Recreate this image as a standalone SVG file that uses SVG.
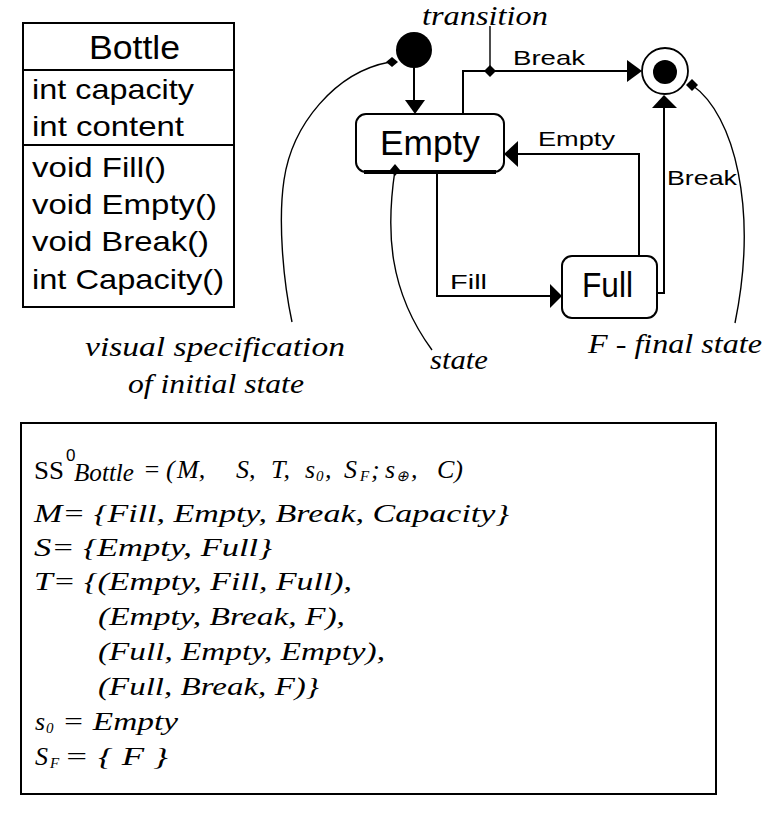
<svg xmlns="http://www.w3.org/2000/svg" width="766" height="817" viewBox="0 0 766 817">
<style>
.ln{fill:none;stroke:#000;stroke-width:2}
.ann{fill:none;stroke:#000;stroke-width:1.4}
.box{fill:#fff;stroke:#000;stroke-width:2}
.blk{fill:#000}
.sans{font-family:"Liberation Sans",Arial,sans-serif;fill:#000}
.cls{font-size:28px}
.st{font-size:35px}
.lbl{font-size:21px}
.it{font-family:"Liberation Serif","Times New Roman",serif;font-style:italic;fill:#000;font-size:27px}
.sp{font-family:"Liberation Serif","Times New Roman",serif;font-style:italic;fill:#000;font-size:26px}
.rm{font-family:"Liberation Serif","Times New Roman",serif;fill:#000;font-size:26px}
.sub{font-size:15px}
</style>
<rect width="766" height="817" fill="#fff"/>

<!-- Class box -->
<g id="class-bottle">
<rect class="box" x="23" y="23" width="211" height="284"/>
<line class="ln" x1="23" y1="70" x2="234" y2="70"/>
<line class="ln" x1="23" y1="145" x2="234" y2="145"/>
<text class="sans" x="89" y="59" font-size="34" textLength="91" lengthAdjust="spacingAndGlyphs">Bottle</text>
<text class="sans cls" x="32" y="99" textLength="162" lengthAdjust="spacingAndGlyphs">int capacity</text>
<text class="sans cls" x="32" y="136" textLength="152" lengthAdjust="spacingAndGlyphs">int content</text>
<text class="sans cls" x="32" y="177" textLength="134" lengthAdjust="spacingAndGlyphs">void Fill()</text>
<text class="sans cls" x="32" y="214" textLength="185" lengthAdjust="spacingAndGlyphs">void Empty()</text>
<text class="sans cls" x="32" y="251" textLength="177" lengthAdjust="spacingAndGlyphs">void Break()</text>
<text class="sans cls" x="32" y="289" textLength="192" lengthAdjust="spacingAndGlyphs">int Capacity()</text>
</g>

<!-- States -->
<g id="initial">
<circle class="blk" cx="414" cy="50" r="18"/>
</g>
<g id="state-empty">
<rect class="box" x="356" y="114" width="148" height="58" rx="10"/>
<line x1="364" y1="172" x2="496" y2="172" stroke="#000" stroke-width="4"/>
<text class="sans st" x="380" y="155" textLength="100" lengthAdjust="spacingAndGlyphs">Empty</text>
</g>
<g id="state-full">
<rect class="box" x="562" y="256" width="95" height="62" rx="10"/>
<text class="sans st" x="582" y="297" textLength="51" lengthAdjust="spacingAndGlyphs">Full</text>
</g>
<g id="final">
<circle cx="665" cy="71" r="23" fill="#fff" stroke="#000" stroke-width="1.8"/>
<circle class="blk" cx="665" cy="72" r="12"/>
</g>

<!-- Connectors -->
<g id="connectors">
<line class="ln" x1="414" y1="66" x2="414" y2="101"/>
<polygon class="blk" points="405,100 425,100 415,114"/>

<polyline class="ln" points="463,114 463,71 628,71"/>
<polygon class="blk" points="627,60 627,82 642,71"/>

<polyline class="ln" points="639,256 639,154 517,154"/>
<polygon class="blk" points="518,141 518,167 504,154"/>

<polyline class="ln" points="437,172 437,296 551,296"/>
<polygon class="blk" points="550,284 550,308 562,296"/>

<polyline class="ln" points="657,293 664,293 664,107"/>
<polygon class="blk" points="652,108 677,108 664,95"/>

<!-- annotation leaders -->
<path class="ann" d="M292 322 C283 280 278 220 284 180 C292 125 335 72 390 62"/>
<polygon class="blk" points="392,57 398,62 392,67 386,62"/>
<line class="ann" x1="490" y1="26" x2="490" y2="71"/>
<polygon class="blk" points="490,65 496,71 490,77 484,71"/>
<path class="ann" d="M395 170 C386 230 388 290 432 350"/>
<polygon class="blk" points="395,164 400,170 395,176 390,170"/>
<path class="ann" d="M692 85 C735 115 758 210 735 323"/>
<polygon class="blk" points="692,79 698,85 692,91 686,85"/>
</g>

<!-- Connector labels -->
<g id="labels">
<text class="sans lbl" x="513" y="65" textLength="72" lengthAdjust="spacingAndGlyphs">Break</text>
<text class="sans lbl" x="538" y="146" textLength="77" lengthAdjust="spacingAndGlyphs">Empty</text>
<text class="sans lbl" x="667" y="185" textLength="70" lengthAdjust="spacingAndGlyphs">Break</text>
<text class="sans lbl" x="450" y="289" textLength="37" lengthAdjust="spacingAndGlyphs">Fill</text>
</g>

<!-- Annotations -->
<g id="annotations">
<text class="it" x="422" y="25" textLength="126" lengthAdjust="spacingAndGlyphs">transition</text>
<text class="it" x="85" y="356" textLength="260" lengthAdjust="spacingAndGlyphs">visual specification</text>
<text class="it" x="128" y="393" textLength="176" lengthAdjust="spacingAndGlyphs">of initial state</text>
<text class="it" x="430" y="369" textLength="58" lengthAdjust="spacingAndGlyphs">state</text>
<text class="it" x="588" y="353" textLength="174" lengthAdjust="spacingAndGlyphs">F - final state</text>
</g>

<!-- Specification box -->
<g id="spec">
<rect class="box" x="21" y="423" width="695" height="371"/>
<text class="rm" x="34" y="479" textLength="30" lengthAdjust="spacingAndGlyphs">SS</text>
<text class="sans" x="66" y="461" font-size="17">0</text>
<text class="sp" x="74" y="481" font-size="18" textLength="60" lengthAdjust="spacingAndGlyphs">Bottle</text>
<text class="sp" y="478"><tspan x="143">=</tspan><tspan x="166">(</tspan><tspan x="177">M,</tspan><tspan x="236">S,</tspan><tspan x="271">T,</tspan><tspan x="305">s</tspan><tspan x="316" class="sub" dy="3">0</tspan><tspan x="325" dy="-3">,</tspan><tspan x="344">S</tspan><tspan x="360" class="sub" dy="3">F</tspan><tspan x="371" dy="-3">;</tspan><tspan x="385">s</tspan><tspan x="396" class="sub" dy="3">⊕</tspan><tspan x="411" dy="-3">,</tspan><tspan x="437">C)</tspan></text>
<text class="sp" x="34" y="522" textLength="475" lengthAdjust="spacingAndGlyphs">M= {Fill, Empty, Break, Capacity}</text>
<text class="sp" x="34" y="556" textLength="238" lengthAdjust="spacingAndGlyphs">S= {Empty, Full}</text>
<text class="sp" x="34" y="590" textLength="318" lengthAdjust="spacingAndGlyphs">T= {(Empty, Fill, Full),</text>
<text class="sp" x="98" y="625" textLength="247" lengthAdjust="spacingAndGlyphs">(Empty, Break, F),</text>
<text class="sp" x="98" y="660" textLength="287" lengthAdjust="spacingAndGlyphs">(Full, Empty, Empty),</text>
<text class="sp" x="98" y="695" textLength="221" lengthAdjust="spacingAndGlyphs">(Full, Break, F)}</text>
<text class="sp" y="730"><tspan x="35">s</tspan><tspan x="46" class="sub" dy="3">0</tspan></text>
<text class="sp" x="62" y="730" textLength="116" lengthAdjust="spacingAndGlyphs">= Empty</text>
<text class="sp" y="765"><tspan x="35">S</tspan><tspan x="50" class="sub" dy="3">F</tspan></text>
<text class="sp" x="64" y="765" textLength="104" lengthAdjust="spacingAndGlyphs">= { F }</text>
</g>
</svg>
